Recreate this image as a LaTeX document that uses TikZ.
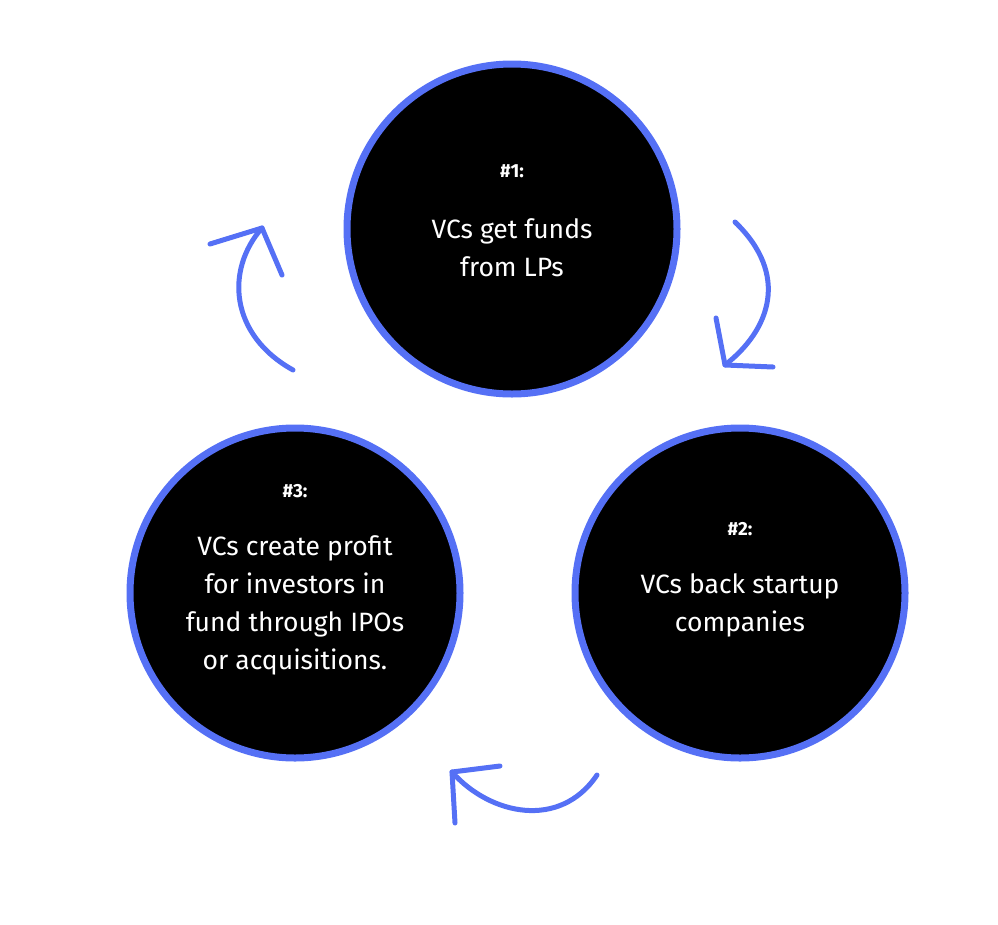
\documentclass[tikz,border=0pt]{standalone}
\usepackage{fontspec}
\setmainfont{Fira Sans}
\definecolor{ring}{HTML}{5570F5}
\begin{document}
\begin{tikzpicture}[x=1pt,y=-1pt,
  stage/.style={circle,fill=black,draw=ring,line width=7pt,minimum size=330pt,inner sep=0pt},
  lab/.style={text=white,align=center,font=\fontsize{26.5}{38}\selectfont},
  num/.style={text=white,font=\fontsize{19}{22}\selectfont\bfseries},
  cyc/.style={draw=ring,line width=5pt,line cap=round,line join=round}]
\useasboundingbox (0,0) rectangle (998,924);
\node[stage] (c1) at (512,229) {};
\node[stage] (c2) at (740,593) {};
\node[stage] (c3) at (295,593) {};
\node[num] (n1) at (512,171) {\#1:};
\node[lab] (t1) at (512,248) {VCs get funds\\from LPs};
\node[num] (n2) at (740,529) {\#2:};
\node[lab] (t2) at (740,605) {VCs back startup\\companies};
\node[num] (n3) at (295,491) {\#3:};
\node[lab] (t3) at (295,605) {VCs create profit\\for investors in\\fund through IPOs\\or acquisitions.};
\coordinate (a1s) at (735,222); \coordinate (a1e) at (725,365);
\coordinate (a2s) at (597,775); \coordinate (a2e) at (452,772);
\coordinate (a3s) at (293,370); \coordinate (a3e) at (262,228);
\draw[cyc] (a1s) .. controls (790,275) and (770,330) .. (a1e);
\draw[cyc] (716,318) -- (a1e) -- (773,367);
\draw[cyc] (a2s) .. controls (560,830) and (490,815) .. (a2e);
\draw[cyc] (455,823) -- (a2e) -- (500,766);
\draw[cyc] (a3s) .. controls (230,335) and (225,270) .. (a3e);
\draw[cyc] (210,244) -- (a3e) -- (282,275);
\end{tikzpicture}
\end{document}
